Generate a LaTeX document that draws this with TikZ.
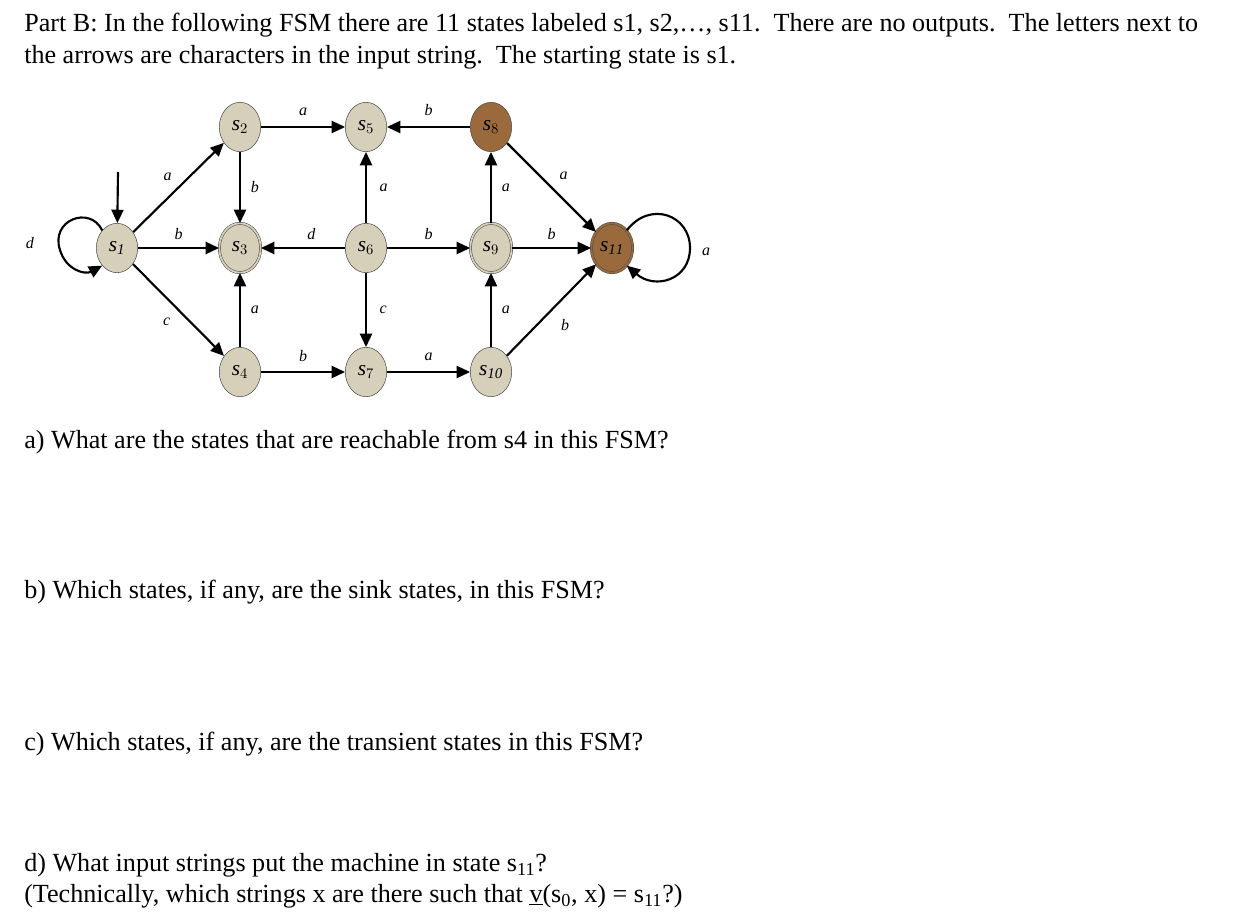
\documentclass[tikz,border=0pt]{standalone}
\usepackage{fontspec}
\setmainfont{Liberation Serif}
\usetikzlibrary{arrows.meta,shapes.geometric}
\definecolor{tan}{HTML}{D6D0BA}
\definecolor{brn}{HTML}{9A6A3C}
\begin{document}
\begin{tikzpicture}[x=0.75pt,y=-0.75pt,
 st/.style={ellipse,draw=black!70,fill=tan,minimum width=31pt,minimum height=37pt,inner sep=0pt,font=\fontsize{16}{16}\selectfont\itshape},
 acc/.style={double=tan,double distance=1.3pt,draw=black!70},
 ed/.style={-{Triangle[length=10pt,width=9pt]},line width=1.6pt},
 lb/.style={font=\fontsize{12}{12}\selectfont\itshape},
 q/.style={anchor=base west,font=\fontsize{19.6}{24}\selectfont,inner sep=0pt}]
\useasboundingbox (0,0) rectangle (1246,924);
\node[q] (t1) at (24,32) {Part B: In the following FSM there are 11 states labeled s1, s2,…, s11.\ \ There are no outputs.\ \ The letters next to};
\node[q] (t2) at (24,64) {the arrows are characters in the input string.\ \ The starting state is s1.};
\node[q] (qa) at (24,448) {a) What are the states that are reachable from s4 in this FSM?};
\node[q] (qb) at (24,598) {b) Which states, if any, are the sink states, in this FSM?};
\node[q] (qc) at (24,750) {c) Which states, if any, are the transient states in this FSM?};
\node[q] (qd) at (24,871) {d) What input strings put the machine in state s\textsubscript{11}?};
\node[q] (qe) at (24,902) {(Technically, which strings x are there such that \underline{v}(s\textsubscript{0}, x) = s\textsubscript{11}?)};
% states
\node[st] (s1) at (117,248) {s$_{\mathit 1}$};
\node[st] (s2) at (240,127) {s$_2$};
\node[st,acc] (s3) at (240,248) {s$_3$};
\node[st] (s4) at (240,372) {s$_4$};
\node[st] (s5) at (366,127) {s$_5$};
\node[st] (s6) at (366,248) {s$_6$};
\node[st] (s7) at (366,372) {s$_7$};
\node[st,fill=brn] (s8) at (491,127) {s$_8$};
\node[st,acc] (s9) at (491,248) {s$_9$};
\node[st] (s10) at (491,372) {s$_{\mathit{10}}$};
\node[st,acc,fill=brn,double=brn] (s11) at (612,248) {s$_{\mathit{11}}$};
\coordinate (init) at (118,172);
\draw[ed] (init) -- (s1);
\draw[ed] (s1.north west) .. controls (90,205) and (50,220) .. (60,250) .. controls (66,270) and (85,275) .. (s1.south west);
\node[lb] (ld) at (30,243) {d};
\draw[ed] (s11.north east) .. controls (650,200) and (690,215) .. (690,248) .. controls (690,280) and (655,290) .. (s11.south east);
\node[lb] (la) at (706,252) {a};
\draw[ed] (s1) -- node[lb,above left=1pt] {a} (s2);
\draw[ed] (s1) -- node[lb,above=2pt] {b} (s3);
\draw[ed] (s1) -- node[lb,below left=2pt] {c} (s4);
\draw[ed] (s2) -- node[lb,right=4pt] {b} (s3);
\draw[ed] (s2) -- node[lb,above=4pt] {a} (s5);
\draw[ed] (s4) -- node[lb,right=4pt] {a} (s3);
\draw[ed] (s4) -- node[lb,above=4pt] {b} (s7);
\draw[ed] (s6) -- node[lb,above=2pt,pos=0.4] {d} (s3);
\draw[ed] (s6) -- node[lb,right=6pt] {a} (s5);
\draw[ed] (s6) -- node[lb,above=2pt] {b} (s9);
\draw[ed] (s6) -- node[lb,right=6pt] {c} (s7);
\draw[ed] (s8) -- node[lb,above=4pt] {b} (s5);
\draw[ed] (s8) -- node[lb,above right=2pt] {a} (s11);
\draw[ed] (s9) -- node[lb,right=4pt] {a} (s8);
\draw[ed] (s9) -- node[lb,above=2pt] {b} (s11);
\draw[ed] (s7) -- node[lb,above=4pt] {a} (s10);
\draw[ed] (s10) -- node[lb,right=4pt] {a} (s9);
\draw[ed] (s10) -- node[lb,below right=3pt] {b} (s11);
\end{tikzpicture}
\end{document}
